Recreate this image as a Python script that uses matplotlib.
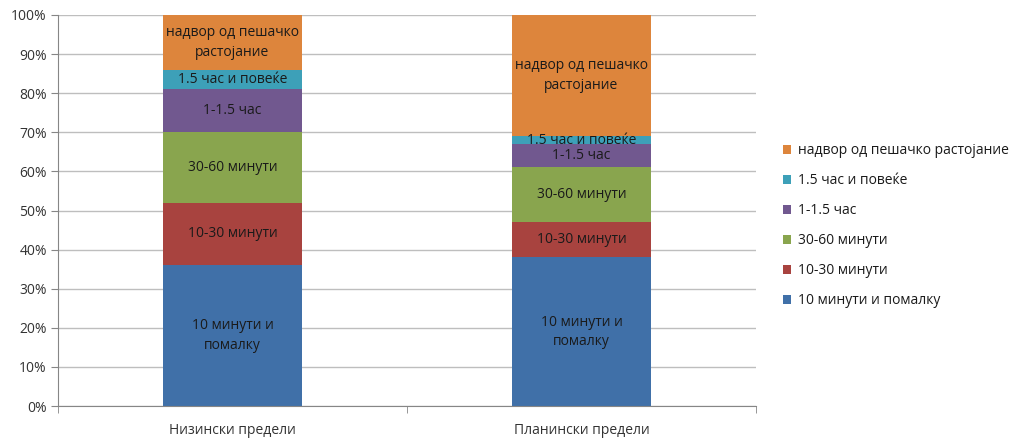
import matplotlib
matplotlib.use('Agg')
import matplotlib.pyplot as plt
from matplotlib.patches import Patch
from matplotlib.ticker import PercentFormatter

plt.rcParams['font.family'] = ['Open Sans', 'DejaVu Sans']

# Категории и серии (проценти)
categories = ['Низински предели', 'Планински предели']
series_names = ['10 минути и помалку', '10-30 минути', '30-60 минути',
                '1-1.5 час', '1.5 час и повеќе', 'надвор од пешачко растојание']
bar_labels = ['10 минути и\nпомалку', '10-30 минути', '30-60 минути',
              '1-1.5 час', '1.5 час и повеќе', 'надвор од пешачко\nрастојание']
values = [
    [36, 38],
    [16, 9],
    [18, 14],
    [11, 6],
    [5, 2],
    [14, 31],
]
colors = ['#4070A8', '#A8433F', '#89A54E', '#71588F', '#3DA0B8', '#DD853C']

fig = plt.figure(figsize=(10.18, 4.38), dpi=100)
ax = fig.add_axes([58 / 1018, 32 / 438, 698 / 1018, 391 / 438])

x = [0, 1]
bottom = [0, 0]
for name, lab, vals, col in zip(series_names, bar_labels, values, colors):
    ax.bar(x, vals, width=0.4, bottom=bottom, color=col, label=name, zorder=2)
    for i in x:
        ax.text(i, bottom[i] + vals[i] / 2, lab, ha='center', va='center',
                fontsize=10, color='#1a1a1a', linespacing=1.4, zorder=3)
    bottom = [b + v for b, v in zip(bottom, vals)]

ax.set_xlim(-0.5, 1.5)
ax.set_ylim(0, 100)
ax.set_yticks(range(0, 101, 10))
ax.yaxis.set_major_formatter(PercentFormatter(decimals=0))
ax.set_xticks(x)
ax.set_xticklabels(categories)
ax.set_xticks([-0.5, 0.5, 1.5], minor=True)
ax.tick_params(axis='x', which='major', length=0, pad=12, labelsize=10, colors='#333333')
ax.tick_params(axis='x', which='minor', length=5, color='#868686')
ax.tick_params(axis='y', length=5, color='#868686', labelsize=10, labelcolor='#333333', pad=3)
ax.grid(axis='y', color='#BEBEBE', linewidth=1, zorder=0)

for side in ['top', 'right']:
    ax.spines[side].set_visible(False)
ax.spines['left'].set_color('#868686')
ax.spines['bottom'].set_color('#868686')

handles = [Patch(facecolor=c, label=n) for c, n in zip(colors, series_names)][::-1]
fig.legend(handles=handles, loc='center left', bbox_to_anchor=(770 / 1018, 1 - 226 / 438),
           frameon=False, fontsize=10, handlelength=0.6, handleheight=0.6,
           handletextpad=0.5, labelspacing=1.08, labelcolor='#1a1a1a')

fig.savefig('out.png', dpi=100)
